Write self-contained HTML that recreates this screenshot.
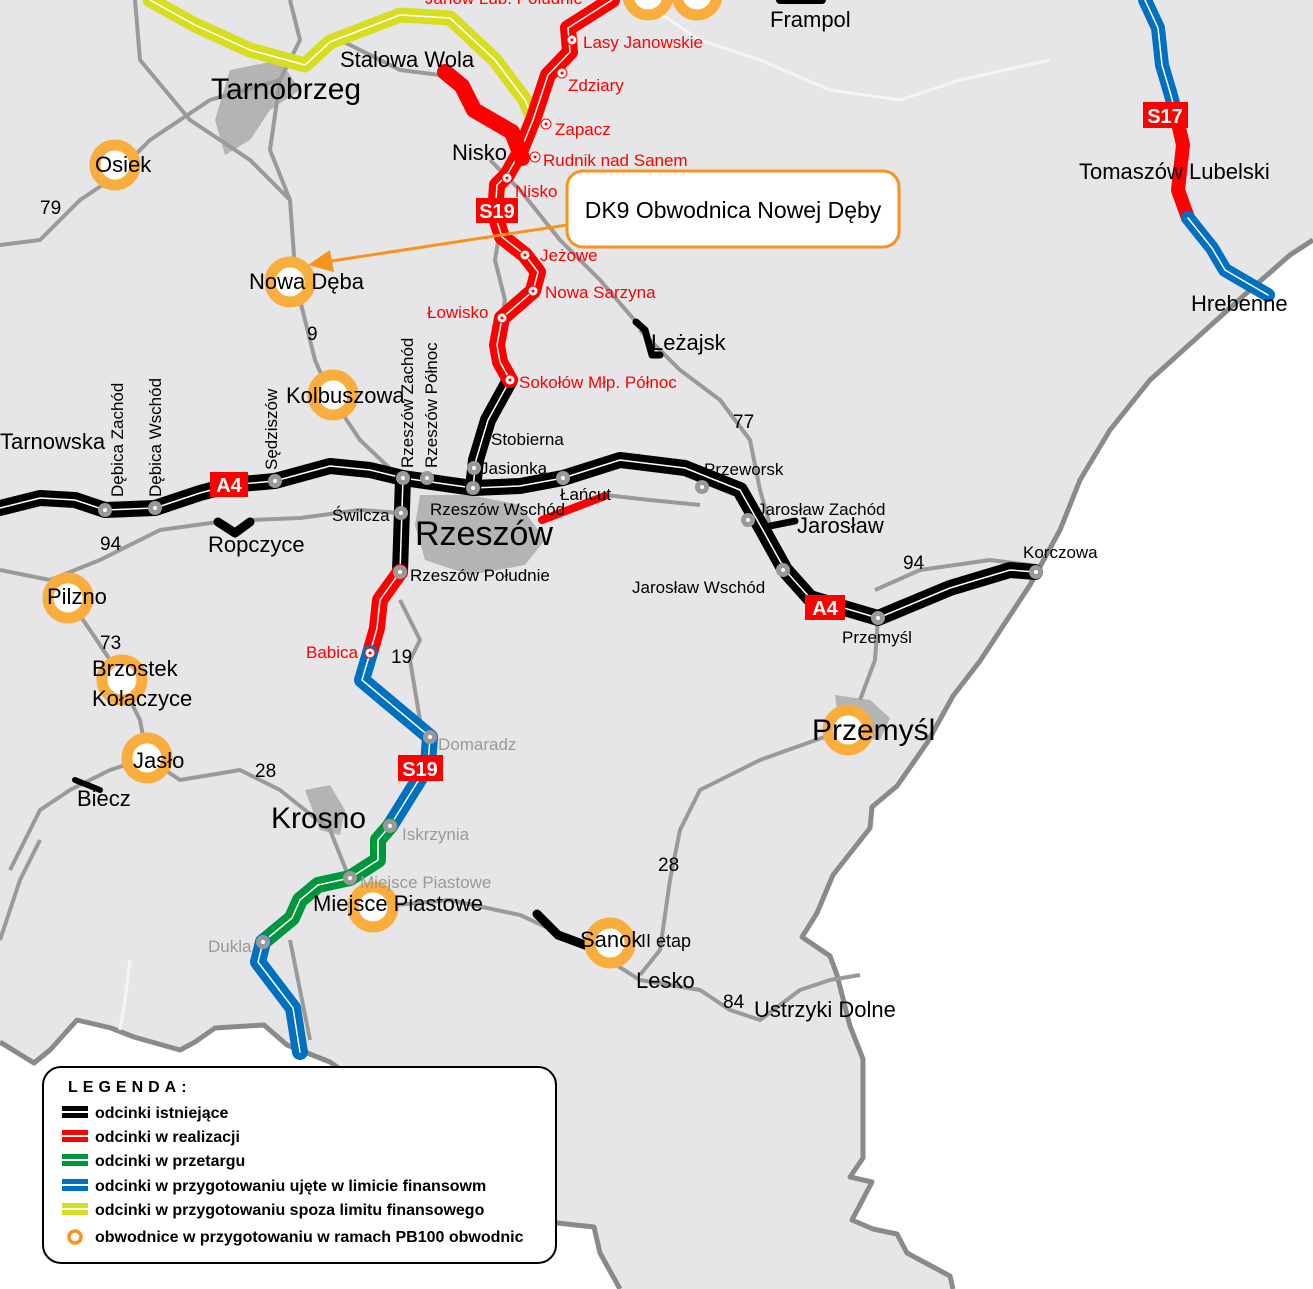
<!DOCTYPE html>
<html><head><meta charset="utf-8"><style>
html,body{margin:0;padding:0;background:#fff;}
svg{display:block;font-family:"Liberation Sans",sans-serif;}
</style></head><body>
<svg width="1313" height="1289" viewBox="0 0 1313 1289" xmlns="http://www.w3.org/2000/svg">
<!-- land -->
<path d="M0,0 H1313 V240 L1290,255 L1250,290 L1200,335 L1150,380 L1110,430 L1080,480 L1060,530 L1030,585 L980,661 L953,696 L927,743 L897,786 L872,807 L870,828 L833,875 L817,913 L802,937 L830,956 L837,975 L850,1026 L863,1059 L863,1158 L850,1177 L872,1182 L852,1220 L873,1229 L897,1234 L907,1253 L950,1276 L953,1289 L620,1289 L600,1253 L594,1227 L557,1223 L330,1062 L287,1045 L264,1025 L215,1028 L195,1042 L180,1050 L134,1037 L111,1028 L77,1020 L50,1050 L34,1063 L0,1042 Z" fill="#e6e6e8"/>
<path d="M1313,240 L1290,255 L1250,290 L1200,335 L1150,380 L1110,430 L1080,480 L1060,530 L1030,585 L980,661 L953,696 L927,743 L897,786 L872,807 L870,828 L833,875 L817,913 L802,937 L830,956 L837,975 L850,1026 L863,1059 L863,1158 L850,1177 L872,1182 L852,1220 L873,1229 L897,1234 L907,1253 L950,1276 L953,1289" fill="none" stroke="#8a8a8a" stroke-width="5" stroke-linejoin="round"/>
<path d="M620,1289 L600,1253 L594,1227 L557,1223 L330,1062 L287,1045 L264,1025 L215,1028 L195,1042 L180,1050 L134,1037 L111,1028 L77,1020 L50,1050 L34,1063 L0,1042" fill="none" stroke="#8a8a8a" stroke-width="5" stroke-linejoin="round"/>
<!-- city areas -->
<path d="M230,70 L280,60 L300,90 L270,110 L250,140 L225,155 L215,120 Z" fill="#b4b4b4"/>
<path d="M420,495 L470,495 L520,505 L545,540 L525,565 L470,575 L425,560 L415,525 Z" fill="#b4b4b4"/>
<path d="M305,790 L330,785 L345,810 L340,835 L320,830 Z" fill="#b4b4b4"/>
<path d="M835,695 L870,700 L890,718 L880,740 L840,735 Z" fill="#b4b4b4"/>
<!-- gray minor roads -->
<g fill="none" stroke="#9a9a9a" stroke-width="4" stroke-linejoin="round">
<path d="M0,245 L40,240 L80,200 L110,180 L150,140 L210,100 L280,80"/>
<path d="M290,0 L300,40 L280,80 L270,150 L290,200 L295,270 L300,300 L315,360 L330,395 L360,440 L400,478"/>
<path d="M135,0 L140,60 L190,120 L250,160 L290,200"/>
<path d="M340,40 L400,70 L440,75"/>
<path d="M0,570 L50,580 L100,560 L160,530 L218,522"/>
<path d="M250,520 L300,518 L360,510 L400,513"/>
<path d="M68,598 L90,630 L110,660 L120,680 L140,720 L147,758"/>
<path d="M147,758 L110,770 L70,790 L40,810 L10,870"/>
<path d="M147,758 L180,780 L240,770 L280,790 L330,830 L350,880"/>
<path d="M400,600 L420,640 L410,660 L420,720 L430,737"/>
<path d="M395,905 L450,900 L520,915 L585,945 L640,980 L700,990 L730,1010 L760,1020 L800,990 L830,980 L860,975"/>
<path d="M640,975 L660,950 L670,880 L680,830 L700,790 L760,760 L830,735"/>
<path d="M605,495 L650,500 L700,505"/>
<path d="M640,330 L680,370 L720,400 L750,440 L760,490 L770,525"/>
<path d="M560,480 L600,470 L640,455"/>
<path d="M875,590 L920,570 L990,560 L1030,565"/>
<path d="M878,618 L875,660 L860,700"/>
<path d="M500,230 L495,260 L505,300 L502,318"/>
<path d="M490,160 L520,190 L560,240 L600,280 L636,322"/>
<path d="M0,940 L20,880 L40,840"/>
<path d="M290,940 L300,990 L310,1040"/>
</g>
<g fill="none" stroke="#f4f4f4" stroke-width="3">
<path d="M640,0 L700,40 L760,60 L830,90 L900,100 L960,80 L1050,60"/>
<path d="M130,960 L125,1000 L120,1030"/>
</g>
<!-- roads -->
<g fill="none" stroke-linejoin="round" stroke-linecap="round">
<path d="M150,0 L195,25 L250,50 L305,65 L330,42 L400,15 L450,18 L495,60 L525,100 L530,112" stroke="#d7de21" stroke-width="15"/>
<path d="M150,0 L195,25 L250,50 L305,65 L330,42 L400,15 L450,18 L495,60 L525,100 L530,112" stroke="#fff" stroke-width="1.5"/>
<path d="M0,508 L40,498 L75,500 L105,510 L155,508 L200,493 L230,485 L275,481 L330,466 L370,470 L403,478 L473,488 L520,486 L563,478 L620,460 L685,468 L740,490 L760,525 L785,570 L810,598 L878,618 L950,588 L1010,570 L1035,572" stroke="#000" stroke-width="16"/>
<path d="M0,508 L40,498 L75,500 L105,510 L155,508 L200,493 L230,485 L275,481 L330,466 L370,470 L403,478 L473,488 L520,486 L563,478 L620,460 L685,468 L740,490 L760,525 L785,570 L810,598 L878,618 L950,588 L1010,570 L1035,572" stroke="#fff" stroke-width="1.5"/>
<path d="M510,380 L488,420 L476,460 L473,488" stroke="#000" stroke-width="16"/>
<path d="M510,380 L488,420 L476,460 L473,488" stroke="#fff" stroke-width="1.5"/>
<path d="M612,0 L568,28 L570,52 L548,75 L533,120 L520,152 L507,175 L497,185 L495,215 L502,237 L525,255 L538,272 L533,291 L502,318 L497,345 L500,362 L510,380" stroke="#f00" stroke-width="16"/>
<path d="M612,0 L568,28 L570,52 L548,75 L533,120 L520,152 L507,175 L497,185 L495,215 L502,237 L525,255 L538,272 L533,291 L502,318 L497,345 L500,362 L510,380" stroke="#fff" stroke-width="1.5"/>
<path d="M445,72 L462,86 L474,110 L512,132 L522,158" stroke="#f00" stroke-width="16"/>
<path d="M403,478 L400,572" stroke="#000" stroke-width="16"/>
<path d="M403,478 L400,572" stroke="#fff" stroke-width="1.5"/>
<path d="M400,572 L380,600 L377,628 L370,653" stroke="#f00" stroke-width="16"/>
<path d="M400,572 L380,600 L377,628 L370,653" stroke="#fff" stroke-width="1.5"/>
<path d="M370,653 L362,680 L430,737 L428,765 L390,826" stroke="#0070c0" stroke-width="16"/>
<path d="M370,653 L362,680 L430,737 L428,765 L390,826" stroke="#fff" stroke-width="1.5"/>
<path d="M390,826 L378,840 L378,860 L350,878 L318,885 L300,900 L292,918 L263,942" stroke="#00963c" stroke-width="16"/>
<path d="M390,826 L378,840 L378,860 L350,878 L318,885 L300,900 L292,918 L263,942" stroke="#fff" stroke-width="1.5"/>
<path d="M263,942 L258,962 L293,1008 L300,1052" stroke="#0070c0" stroke-width="16"/>
<path d="M263,942 L258,962 L293,1008 L300,1052" stroke="#fff" stroke-width="1.5"/>
<path d="M1145,0 L1158,28 L1162,65 L1170,92 L1175,110" stroke="#0070c0" stroke-width="14"/>
<path d="M1145,0 L1158,28 L1162,65 L1170,92 L1175,110" stroke="#fff" stroke-width="1.5"/>
<path d="M1175,110 L1183,145 L1178,190 L1188,218" stroke="#f00" stroke-width="14"/>
<path d="M1188,218 L1212,248 L1225,270 L1268,295" stroke="#0070c0" stroke-width="14"/>
<path d="M1188,218 L1212,248 L1225,270 L1268,295" stroke="#fff" stroke-width="1.5"/>
<path d="M636,322 L645,330 L652,355 L660,355" stroke="#000" stroke-width="7"/>
<path d="M218,522 L235,533 L250,522" stroke="#000" stroke-width="9"/>
<path d="M542,520 L605,496" stroke="#f00" stroke-width="8"/>
<path d="M770,526 L795,521" stroke="#000" stroke-width="7"/>
<path d="M75,780 L100,790" stroke="#000" stroke-width="6"/>
<path d="M537,914 L558,935 L585,945" stroke="#000" stroke-width="9"/>
<path d="M780,0 L822,0" stroke="#000" stroke-width="8"/>
</g>
<!-- bypass circles -->
<g fill="#fff" stroke="#f9ad3c" stroke-width="11">
<circle cx="115" cy="165" r="20"/><circle cx="290" cy="282" r="20"/><circle cx="333" cy="395" r="20"/>
<circle cx="68" cy="598" r="20"/><circle cx="122" cy="680" r="20"/><circle cx="147" cy="758" r="20"/>
<circle cx="848" cy="730" r="20"/><circle cx="373" cy="907" r="20"/><circle cx="610" cy="943" r="20"/>
<circle cx="648" cy="-5" r="20"/><circle cx="697" cy="-5" r="20"/>
</g>
<!-- gray nodes -->
<g fill="#999">
<circle cx="105" cy="510" r="7"/><circle cx="155" cy="508" r="7"/><circle cx="275" cy="481" r="7"/>
<circle cx="403" cy="478" r="7"/><circle cx="427" cy="478" r="7"/><circle cx="473" cy="488" r="7"/><circle cx="474" cy="468" r="7"/>
<circle cx="563" cy="478" r="7"/><circle cx="702" cy="487" r="7"/><circle cx="748" cy="520" r="7"/><circle cx="783" cy="570" r="7"/>
<circle cx="878" cy="618" r="7"/><circle cx="1036" cy="572" r="7"/><circle cx="401" cy="513" r="7"/><circle cx="400" cy="572" r="7"/>
<circle cx="430" cy="737" r="7"/><circle cx="390" cy="826" r="7"/><circle cx="350" cy="878" r="7"/><circle cx="263" cy="942" r="7"/>
</g>
<g fill="#fff">
<circle cx="105" cy="510" r="2"/><circle cx="155" cy="508" r="2"/><circle cx="275" cy="481" r="2"/>
<circle cx="403" cy="478" r="2"/><circle cx="427" cy="478" r="2"/><circle cx="473" cy="488" r="2"/><circle cx="474" cy="468" r="2"/>
<circle cx="563" cy="478" r="2"/><circle cx="702" cy="487" r="2"/><circle cx="748" cy="520" r="2"/><circle cx="783" cy="570" r="2"/>
<circle cx="878" cy="618" r="2"/><circle cx="1036" cy="572" r="2"/><circle cx="401" cy="513" r="2"/><circle cx="400" cy="572" r="2"/>
<circle cx="430" cy="737" r="2"/><circle cx="390" cy="826" r="2"/><circle cx="350" cy="878" r="2"/><circle cx="263" cy="942" r="2"/>
</g>
<g fill="#fff" stroke="#f00" stroke-width="1">
<circle cx="572" cy="40" r="5"/><circle cx="562" cy="73" r="5"/><circle cx="546" cy="124" r="5"/><circle cx="535" cy="157" r="5"/>
<circle cx="507" cy="178" r="5"/><circle cx="525" cy="255" r="5"/><circle cx="533" cy="291" r="5"/><circle cx="502" cy="318" r="5"/>
<circle cx="510" cy="380" r="5"/><circle cx="370" cy="653" r="5"/>
</g>
<g fill="#f00">
<circle cx="572" cy="40" r="1.5"/><circle cx="562" cy="73" r="1.5"/><circle cx="546" cy="124" r="1.5"/><circle cx="535" cy="157" r="1.5"/>
<circle cx="507" cy="178" r="1.5"/><circle cx="525" cy="255" r="1.5"/><circle cx="533" cy="291" r="1.5"/><circle cx="502" cy="318" r="1.5"/>
<circle cx="510" cy="380" r="1.5"/><circle cx="370" cy="653" r="1.5"/>
</g>
<!-- road shields -->
<g font-weight="bold" font-size="20" fill="#fff" text-anchor="middle">
<rect x="210" y="472" width="38" height="25" fill="#f00"/><text x="229" y="492">A4</text>
<rect x="805" y="595" width="40" height="25" fill="#f00"/><text x="825" y="615">A4</text>
<rect x="476" y="198" width="42" height="25" fill="#f00"/><text x="497" y="218">S19</text>
<rect x="398" y="755" width="45" height="26" fill="#f00"/><text x="420" y="776">S19</text>
<rect x="1143" y="102" width="45" height="26" fill="#f00"/><text x="1165" y="123">S17</text>
</g>
<!-- callout -->
<line x1="567" y1="225" x2="325" y2="262" stroke="#f7931e" stroke-width="3"/>
<polygon points="308,265 330,250 334,272" fill="#f7931e"/>
<rect x="567" y="171" width="332" height="76" rx="16" fill="#fff" stroke="#f7931e" stroke-width="3"/>
<text x="733" y="218" font-size="23" text-anchor="middle" fill="#000">DK9 Obwodnica Nowej Dęby</text>
<g fill="#f00" font-size="17">
<text x="583" y="48">Lasy Janowskie</text><text x="568" y="91">Zdziary</text><text x="555" y="135">Zapacz</text>
<text x="543" y="166">Rudnik nad Sanem</text><text x="515" y="197">Nisko</text><text x="540" y="261">Jeżowe</text>
<text x="545" y="298">Nowa Sarzyna</text><text x="427" y="318">Łowisko</text><text x="519" y="388">Sokołów Młp. Północ</text>
<text x="306" y="658">Babica</text><text x="425" y="4">Janów Lub. Południe</text>
</g>
<g fill="#999" font-size="17">
<text x="438" y="750">Domaradz</text><text x="402" y="840">Iskrzynia</text><text x="360" y="888">Miejsce Piastowe</text><text x="208" y="952">Dukla</text>
</g>
<g fill="#000" font-size="17">
<text x="491" y="445">Stobierna</text><text x="480" y="474">Jasionka</text><text x="430" y="515">Rzeszów Wschód</text>
<text x="560" y="500">Łańcut</text><text x="332" y="521">Świlcza</text><text x="410" y="581">Rzeszów Południe</text>
<text x="704" y="475">Przeworsk</text><text x="757" y="515">Jarosław Zachód</text><text x="632" y="593">Jarosław Wschód</text>
<text x="842" y="643">Przemyśl</text><text x="1023" y="558">Korczowa</text><text x="641" y="947" font-size="18">II etap</text>
<text transform="translate(123,497) rotate(-90)">Dębica Zachód</text>
<text transform="translate(161,497) rotate(-90)">Dębica Wschód</text>
<text transform="translate(277,470) rotate(-90)">Sędziszów</text>
<text transform="translate(413,468) rotate(-90)">Rzeszów Zachód</text>
<text transform="translate(437,468) rotate(-90)">Rzeszów Północ</text>
</g>
<g fill="#000" font-size="19">
<text x="40" y="214">79</text><text x="307" y="340">9</text><text x="733" y="428">77</text><text x="100" y="550">94</text>
<text x="903" y="569">94</text><text x="100" y="649">73</text><text x="391" y="663">19</text><text x="255" y="777">28</text>
<text x="658" y="871">28</text><text x="723" y="1008">84</text>
</g>
<g fill="#000" font-size="22">
<text x="770" y="27">Frampol</text><text x="340" y="67">Stalowa Wola</text><text x="452" y="160">Nisko</text>
<text x="95" y="172">Osiek</text><text x="249" y="289">Nowa Dęba</text><text x="286" y="403">Kolbuszowa</text>
<text x="651" y="350">Leżajsk</text><text x="0" y="449">Tarnowska</text><text x="208" y="552">Ropczyce</text>
<text x="797" y="533">Jarosław</text><text x="47" y="604">Pilzno</text><text x="92" y="676">Brzostek</text>
<text x="92" y="706">Kołaczyce</text><text x="133" y="768">Jasło</text><text x="77" y="806">Biecz</text>
<text x="313" y="911">Miejsce Piastowe</text><text x="580" y="947">Sanok</text><text x="636" y="988">Lesko</text>
<text x="754" y="1017">Ustrzyki Dolne</text><text x="1079" y="179">Tomaszów Lubelski</text><text x="1191" y="311">Hrebenne</text>
</g>
<g fill="#000" font-size="30">
<text x="211" y="99">Tarnobrzeg</text><text x="415" y="545" font-size="34">Rzeszów</text>
<text x="271" y="828">Krosno</text><text x="812" y="740">Przemyśl</text>
</g>
<!-- legend -->
<rect x="43" y="1067" width="513" height="196" rx="18" fill="#fff" stroke="#000" stroke-width="2"/>
<text x="68" y="1092" font-size="16" font-weight="bold" letter-spacing="5">LEGENDA:</text>
<rect x="62" y="1106" width="26" height="12" fill="#000"/><rect x="62" y="1111" width="26" height="2" fill="#fff"/>
<rect x="62" y="1130" width="26" height="12" fill="#f00"/><rect x="62" y="1135" width="26" height="2" fill="#fff"/>
<rect x="62" y="1154" width="26" height="12" fill="#00963c"/><rect x="62" y="1159" width="26" height="2" fill="#fff"/>
<rect x="62" y="1179" width="26" height="12" fill="#0070c0"/><rect x="62" y="1184" width="26" height="2" fill="#fff"/>
<rect x="62" y="1203" width="26" height="12" fill="#d7de21"/><rect x="62" y="1208" width="26" height="2" fill="#fff"/>
<circle cx="75" cy="1237" r="6" fill="#fff" stroke="#f7931e" stroke-width="3.5"/>
<g font-size="16" font-weight="bold" fill="#000">
<text x="95" y="1118">odcinki istniejące</text><text x="95" y="1142">odcinki w realizacji</text>
<text x="95" y="1166">odcinki w przetargu</text><text x="95" y="1191">odcinki w przygotowaniu ujęte w limicie finansowm</text>
<text x="95" y="1215">odcinki w przygotowaniu spoza limitu finansowego</text>
<text x="95" y="1242">obwodnice w przygotowaniu w ramach PB100 obwodnic</text>
</g>
</svg>
</body></html>
